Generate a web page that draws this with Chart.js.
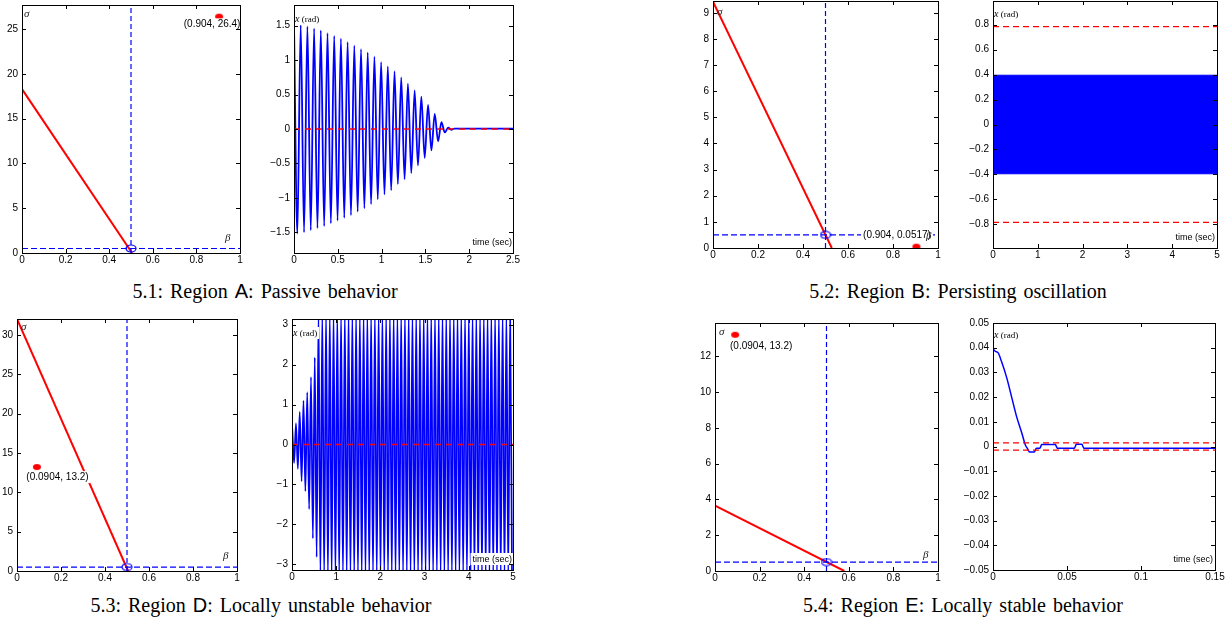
<!DOCTYPE html>
<html>
<head>
<meta charset="utf-8">
<script src="https://cdn.jsdelivr.net/npm/chart.js@4.4.1/dist/chart.umd.min.js"></script>
<style>
  body { margin: 0; background: #fff; width: 1229px; height: 624px; position: relative; overflow: hidden; }
  canvas { position: absolute; }
  .cap { position: absolute; width: 600px; text-align: center; white-space: nowrap; color: #000;
         font: 20px/20px 'Liberation Serif', 'Times New Roman', serif; word-spacing: 2px; }
  .cap span { font-family: 'Liberation Sans', Arial, sans-serif; }
</style>
</head>
<body>
<div class="cap" style="left:-35px;top:281px">5.1: Region <span>A</span>: Passive behavior</div>
<div class="cap" style="left:658px;top:281px">5.2: Region <span>B</span>: Persisting oscillation</div>
<div class="cap" style="left:-39px;top:595px">5.3: Region <span>D</span>: Locally unstable behavior</div>
<div class="cap" style="left:663px;top:595px">5.4: Region <span>E</span>: Locally stable behavior</div>
<script>
// dashed guides in the sigma-beta planes
var guideBeta = 0.5;
var guideSigma = 0.5;

// Region A
var aBeta = [0, 0.505];
var aSigma = [18.3, 0];
var aEq = [0.904, 26.4];
var aPeriod = 0.0765;
var aPeaks = [1.52, 1.51, 1.49, 1.46, 1.43, 1.39, 1.35, 1.31, 1.26, 1.21, 1.16, 1.11,
              1.05, 0.97, 0.91, 0.84, 0.75, 0.66, 0.56, 0.47, 0.35, 0.22, 0.10];
var aTroughs = [-1.52, -1.50, -1.47, -1.44, -1.41, -1.37, -1.33, -1.29, -1.25, -1.20, -1.15, -1.09,
                -1.02, -0.95, -0.89, -0.80, -0.73, -0.64, -0.53, -0.42, -0.31, -0.18, -0.05];
var aTailT = [1.76, 1.795, 1.83, 1.88, 2.5];
var aTailX = [0.02, -0.012, 0.006, 0.004, 0.004];

// Region B
var bBeta = [0, 0.528];
var bSigma = [9.42, 0];
var bEq = [0.904, 0.0517];
var bTime = [0, 5];
var bUpper = [0.395, 0.395];
var bLower = [-0.395, -0.395];
var bLimit = 0.785;

// Region D
var dBeta = [0, 0.505];
var dSigma = [32, 0];
var dEq = [0.0904, 13.2];
var dStart = 0.005;
var dPeriod = 0.085;
var dPeaks = [0.42, 0.53, 0.82, 1.10, 1.31, 1.69, 2.18,
  3.3, 3.3, 3.3, 3.3, 3.3, 3.3, 3.3, 3.3, 3.3, 3.3, 3.3, 3.3, 3.3,
  3.3, 3.3, 3.3, 3.3, 3.3, 3.3, 3.3, 3.3, 3.3, 3.3, 3.3, 3.3, 3.3,
  3.3, 3.3, 3.3, 3.3, 3.3, 3.3, 3.3, 3.3, 3.3, 3.3, 3.3, 3.3, 3.3,
  3.3, 3.3, 3.3, 3.3, 3.3, 3.3, 3.3, 3.3, 3.3, 3.3, 3.3, 3.3, 3.3];
var dTroughs = [-0.46, -0.61, -0.92, -1.17, -1.62, -2.35, -2.82,
  -3.3, -3.3, -3.3, -3.3, -3.3, -3.3, -3.3, -3.3, -3.3, -3.3, -3.3, -3.3, -3.3,
  -3.3, -3.3, -3.3, -3.3, -3.3, -3.3, -3.3, -3.3, -3.3, -3.3, -3.3, -3.3, -3.3,
  -3.3, -3.3, -3.3, -3.3, -3.3, -3.3, -3.3, -3.3, -3.3, -3.3, -3.3, -3.3, -3.3,
  -3.3, -3.3, -3.3, -3.3, -3.3, -3.3, -3.3, -3.3, -3.3, -3.3, -3.3, -3.3, -3.3];

// Region E
var eBeta = [0, 0.58];
var eSigma = [3.65, 0];
var eEq = [0.0904, 13.2];
var eTime = [0, 0.0016, 0.0034, 0.0057, 0.0092, 0.0126, 0.016, 0.0195, 0.0218, 0.0234, 0.0247,
             0.028, 0.0293, 0.0316, 0.033, 0.0421, 0.0435, 0.055, 0.0563, 0.06, 0.0614, 0.15];
var eX = [0.0395, 0.0385, 0.038, 0.0345, 0.028, 0.020, 0.012, 0.0054, 0.0007, -0.001, -0.0022,
          -0.0022, -0.0007, -0.0007, 0.0008, 0.0008, -0.0007, -0.0007, 0.0009, 0.0009, -0.0007, -0.0007];
var eLimit = 0.0015;

Chart.defaults.font.family = "'Liberation Sans', Arial, sans-serif";

var RED = '#ff0000', BLUE = '#0000ff';
var SANS = "'Liberation Sans', Arial, sans-serif";
var SERIF = "'Liberation Serif', 'Times New Roman', serif";
var GREEK = 'italic 11px ' + SERIF;

function ellipse(w, h, fill, stroke) {
  var c = document.createElement('canvas');
  c.width = w + 2; c.height = h + 2;
  var g = c.getContext('2d');
  g.beginPath();
  g.ellipse((w + 2) / 2, (h + 2) / 2, w / 2, h / 2, 0, 0, Math.PI * 2);
  if (fill) { g.fillStyle = fill; g.fill(); }
  if (stroke) { g.strokeStyle = stroke; g.lineWidth = 1.2; g.stroke(); }
  return c;
}
var redDot = ellipse(8, 6, RED, null);
var blueRing = ellipse(10, 7, null, BLUE);

function pts(xs, ys) {
  return xs.map(function (x, i) { return { x: x, y: ys[i] }; });
}

function line(data, color, width, dash, extra) {
  var ds = { data: data, showLine: true, borderColor: color, backgroundColor: color,
             borderWidth: width, borderDash: dash || [], pointRadius: 0, clip: 0 };
  for (var k in extra || {}) ds[k] = extra[k];
  return ds;
}

function marker(x, y, img) {
  return { data: [{ x: x, y: y }], pointStyle: img, pointRadius: 4, clip: 0 };
}

// sigma-beta plane: dot, ring, guides, red line
function planeSets(beta, sigma, eq, yMax) {
  return [
    marker(eq[0], eq[1], redDot),
    marker(guideBeta, guideSigma, blueRing),
    line([{ x: guideBeta, y: 0 }, { x: guideBeta, y: yMax }], BLUE, 1.2, [5, 3]),
    line([{ x: 0, y: guideSigma }, { x: 1, y: guideSigma }], BLUE, 1.2, [6, 3]),
    line(pts(beta, sigma), RED, 2)
  ];
}

function extrema(start, period, peaks, troughs) {
  var out = [];
  peaks.forEach(function (p, k) {
    out.push({ x: start + k * period, y: p });
    if (k < troughs.length) out.push({ x: start + (k + 0.5) * period, y: troughs[k] });
  });
  return out;
}

function drawNote(chart, n) {
  var ctx = chart.ctx, a = chart.chartArea, px, py;
  if (n.at) {
    px = chart.scales.x.getPixelForValue(n.at[0]);
    py = chart.scales.y.getPixelForValue(n.at[1]);
  } else {
    px = (n.corner[0] === 'l' ? a.left : a.right) + n.dx;
    py = (n.corner[1] === 't' ? a.top : a.bottom) + n.dy;
  }
  var w = 0;
  n.parts.forEach(function (p) { ctx.font = p[1]; w += ctx.measureText(p[0]).width; });
  var x0 = n.align === 'center' ? px - w / 2 : (n.align === 'right' ? px - w : px);
  if (n.bg) {
    ctx.fillStyle = '#fff';
    ctx.fillRect(x0 - 2, py - 9, w + 4, 12);
  }
  ctx.fillStyle = n.color || '#000';
  ctx.textAlign = 'left';
  ctx.textBaseline = 'alphabetic';
  n.parts.forEach(function (p) {
    ctx.font = p[1];
    ctx.fillText(p[0], x0, py);
    x0 += ctx.measureText(p[0]).width;
  });
}

// box with inward ticks on all four sides, plus the text notes
function framePlugin(notes) {
  return {
    id: 'frame',
    afterDatasetsDraw: function (chart) {
      var ctx = chart.ctx, a = chart.chartArea, sx = chart.scales.x, sy = chart.scales.y;
      ctx.save();
      notes.forEach(function (n) { drawNote(chart, n); });
      ctx.setLineDash([]);
      ctx.strokeStyle = '#000';
      ctx.lineWidth = 1;
      ctx.beginPath();
      sx.ticks.forEach(function (t) {
        var p = Math.round(sx.getPixelForValue(t.value)) + 0.5;
        ctx.moveTo(p, a.bottom); ctx.lineTo(p, a.bottom - 4);
        ctx.moveTo(p, a.top); ctx.lineTo(p, a.top + 4);
      });
      sy.ticks.forEach(function (t) {
        var p = Math.round(sy.getPixelForValue(t.value)) + 0.5;
        ctx.moveTo(a.left, p); ctx.lineTo(a.left + 4, p);
        ctx.moveTo(a.right, p); ctx.lineTo(a.right - 4, p);
      });
      ctx.stroke();
      ctx.strokeRect(Math.round(a.left) + 0.5, Math.round(a.top) + 0.5,
                     Math.round(a.right - a.left), Math.round(a.bottom - a.top));
      ctx.restore();
    }
  };
}

function fmt(v) {
  return String(Math.round(v * 1e6) / 1e6).replace('-', '\u2212');
}

function axis(r, isX) {
  return {
    type: 'linear', min: r[0], max: r[1],
    grid: { display: false, drawTicks: false, tickLength: 0 }, border: { display: false },
    ticks: { stepSize: r[2], includeBounds: false, padding: isX ? 1 : 4, color: '#000',
             font: { size: 10 }, maxRotation: 0, autoSkip: false, callback: fmt },
    afterFit: function (s) {
      if (isX) s.height = 22; else s.width = 40;
      s.paddingLeft = s.paddingRight = s.paddingTop = s.paddingBottom = 0;
    }
  };
}

function panel(area, xr, yr, datasets, notes) {
  var cv = document.createElement('canvas');
  cv.width = area[2] - area[0] + 56;
  cv.height = area[3] - area[1] + 32;
  cv.style.left = (area[0] - 40) + 'px';
  cv.style.top = (area[1] - 10) + 'px';
  document.body.appendChild(cv);
  return new Chart(cv, {
    type: 'scatter',
    data: { datasets: datasets },
    options: {
      responsive: false, animation: false, events: [],
      layout: { padding: { left: 0, top: 10, right: 16, bottom: 0 } },
      plugins: { legend: { display: false }, tooltip: { enabled: false } },
      scales: { x: axis(xr, true), y: axis(yr, false) }
    },
    plugins: [framePlugin(notes)]
  });
}

function sigmaNote(dx, dy) { return { parts: [['\u03c3', GREEK]], corner: 'lt', dx: dx, dy: dy, color: '#222' }; }
function betaNote(dx, dy) { return { parts: [['\u03b2', GREEK]], corner: 'rb', dx: dx, dy: dy, color: '#222' }; }
function eqNote(eq, at, align) {
  return { parts: [['(' + eq[0] + ', ' + eq[1] + ')', '10px ' + SANS]], at: at, align: align, bg: true };
}
function xNote(dy) {
  return { parts: [['x', 'italic 10px ' + SERIF], [' (rad)', '9px ' + SERIF]], corner: 'lt', dx: 1, dy: dy, bg: true };
}
function timeNote(dx) {
  return { parts: [['time (sec)', '9px ' + SANS]], corner: 'rb', dx: dx, dy: -8, align: 'right', bg: true };
}

// 5.1 Region A
panel([22, 5, 240, 253], [0, 1, 0.2], [0, 27.7, 5],
  planeSets(aBeta, aSigma, aEq, 27.7),
  [sigmaNote(2, 12), betaNote(-15, -12), eqNote(aEq, [0.872, 25.2], 'center')]);

var aData = extrema(0, aPeriod, aPeaks, aTroughs).concat(pts(aTailT, aTailX));
panel([294, 5, 513, 253], [0, 2.5, 0.5], [-1.8, 1.8, 0.5], [
  line([{ x: 0, y: 0 }, { x: 2.5, y: 0 }], RED, 1.6, [6, 5]),
  line(aData, BLUE, 1.8, null, { cubicInterpolationMode: 'monotone' })
], [xNote(17), timeNote(-1)]);

// 5.2 Region B
panel([713, 1, 938, 248], [0, 1, 0.2], [0, 9.45, 1],
  planeSets(bBeta, bSigma, bEq, 9.45),
  [sigmaNote(4, 14), eqNote(bEq, [0.667, 0.37], 'left'), betaNote(-12, -9)]);

panel([993, 1, 1217, 248], [0, 5, 1], [-0.99, 0.99, 0.2], [
  line(pts(bTime, [bLimit, bLimit]), RED, 1.3, [6, 4]),
  line(pts(bTime, [-bLimit, -bLimit]), RED, 1.3, [6, 4]),
  line(pts(bTime, bUpper), BLUE, 1, null, { fill: '+1', backgroundColor: BLUE }),
  line(pts(bTime, bLower), BLUE, 1)
], [xNote(16), timeNote(-2)]);

// 5.3 Region D
panel([17, 319, 237, 571], [0, 1, 0.2], [0, 32, 5],
  planeSets(dBeta, dSigma, dEq, 32),
  [sigmaNote(4, 11), betaNote(-14, -12), eqNote(dEq, [0.184, 11.54], 'center')]);

panel([292, 319, 513, 570], [0, 5, 1], [-3.1416, 3.1416, 1], [
  line([{ x: 0, y: 0 }, { x: 5, y: 0 }], RED, 1.6, [6, 5]),
  line(extrema(dStart, dPeriod, dPeaks, dTroughs), BLUE, 1.7, null, { cubicInterpolationMode: 'monotone' })
], [xNote(17), timeNote(-1)]);

// 5.4 Region E
panel([715, 323, 938, 571], [0, 1, 0.2], [0, 13.86, 2],
  planeSets(eBeta, eSigma, eEq, 13.86),
  [sigmaNote(4, 12), betaNote(-15, -13), eqNote(eEq, [0.207, 12.41], 'center')]);

panel([993, 323, 1215, 570], [0, 0.15, 0.05], [-0.05, 0.05, 0.01], [
  line([{ x: 0, y: eLimit }, { x: 0.15, y: eLimit }], RED, 1.3, [6, 4]),
  line([{ x: 0, y: -eLimit }, { x: 0.15, y: -eLimit }], RED, 1.3, [6, 4]),
  line(pts(eTime, eX), BLUE, 1.5, null, { cubicInterpolationMode: 'monotone' })
], [xNote(15), timeNote(-2)]);
</script>
</body>
</html>
